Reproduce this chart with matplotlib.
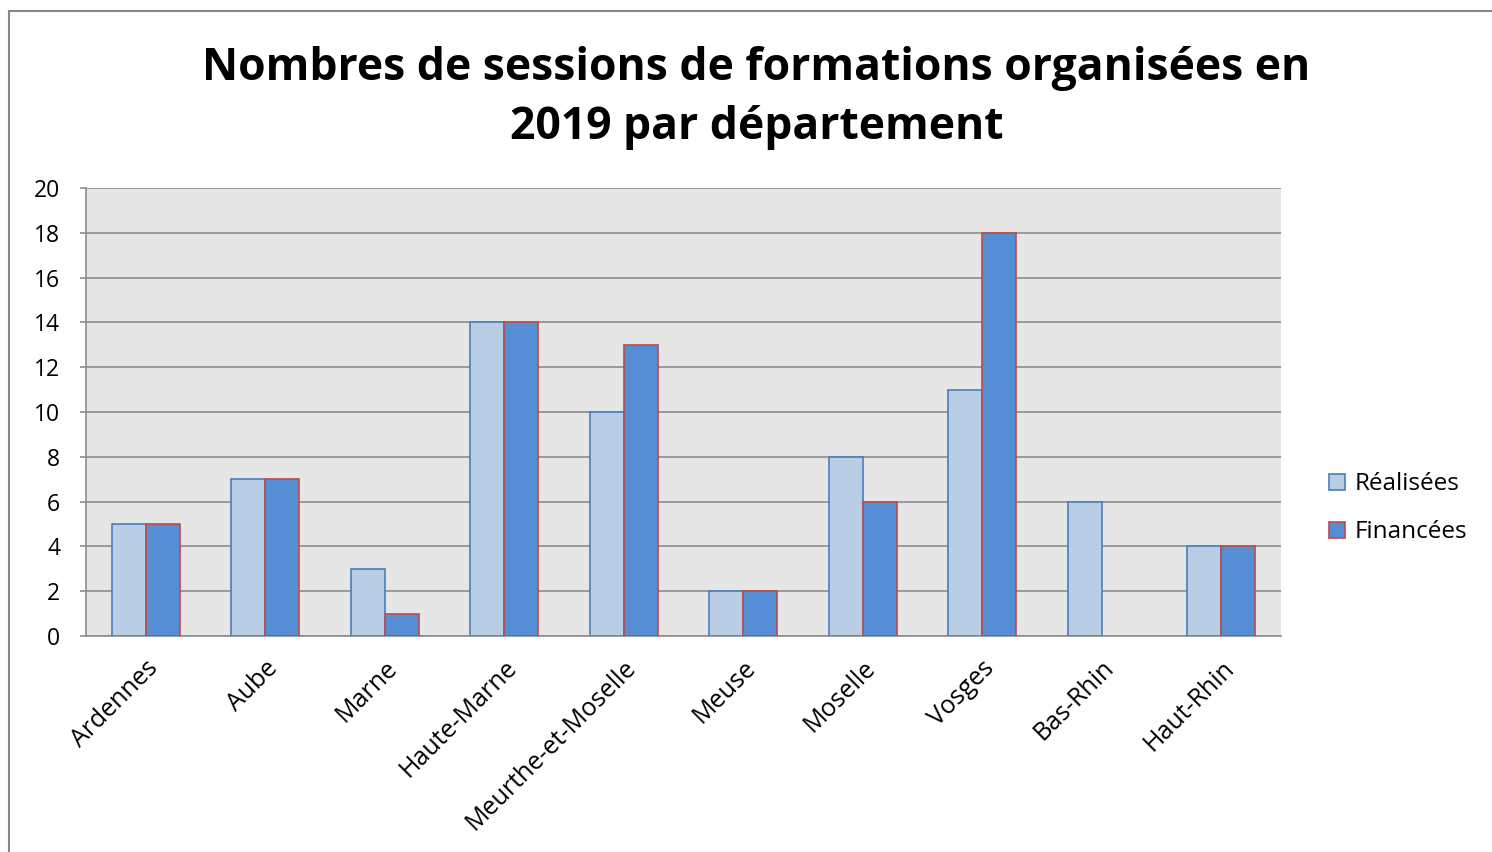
import numpy as np
import matplotlib.pyplot as plt
from matplotlib.patches import Rectangle

departements = ['Ardennes', 'Aube', 'Marne', 'Haute-Marne', 'Meurthe-et-Moselle',
                'Meuse', 'Moselle', 'Vosges', 'Bas-Rhin', 'Haut-Rhin']
realisees = [5, 7, 3, 14, 10, 2, 8, 11, 6, 4]
financees = [5, 7, 1, 14, 13, 2, 6, 18, 0, 4]

plt.rcParams['font.family'] = ['Open Sans', 'DejaVu Sans']

fig = plt.figure(figsize=(14.92, 8.52), dpi=100)
# cadre du graphique (coupe a droite et en bas comme sur la capture)
fig.patches.append(Rectangle((9 / 1492, -0.1), 1.2, (852 - 11) / 852 + 0.1,
                             transform=fig.transFigure, fill=False,
                             edgecolor='#888888', linewidth=1.5))

ax = fig.add_axes([86 / 1492, 1 - 636 / 852, (1281 - 86) / 1492, (636 - 188) / 852])
ax.set_facecolor('#E6E6E6')

x = np.arange(len(departements))
w = 0.285
ax.bar(x - w / 2, realisees, w, color='#B9CDE5', edgecolor='#4A7EBB',
       linewidth=1.2, label='Réalisées', zorder=3)
bars_f = ax.bar(x + w / 2, financees, w, color='#558ED5', edgecolor='#BE4B48',
                linewidth=1.2, label='Financées', zorder=3)
for b, v in zip(bars_f, financees):
    if v == 0:
        b.set_visible(False)

ax.set_xlim(-0.5, len(departements) - 0.5)
ax.set_ylim(0, 20)
ax.set_yticks(range(0, 21, 2))
ax.yaxis.grid(True, color='#8C8C8C', linewidth=1.2, zorder=0)
ax.set_axisbelow(True)
for s in ['top', 'right']:
    ax.spines[s].set_visible(False)
ax.spines['left'].set_color('#8C8C8C')
ax.spines['bottom'].set_color('#8C8C8C')
ax.spines['left'].set_linewidth(1.2)
ax.spines['bottom'].set_linewidth(1.2)
ax.tick_params(axis='y', length=4.5, width=1.2, color='#8C8C8C', labelsize=16.5, pad=14)
ax.tick_params(axis='x', length=0, labelsize=18, pad=14)
ax.set_xticks(x)
ax.set_xticklabels(departements, rotation=45, ha='right', rotation_mode='anchor')

fig.text(0.507, 0.885, 'Nombres de sessions de formations organisées en\n2019 par département',
         ha='center', va='center', fontsize=32, fontweight='bold', linespacing=1.42)

ax.legend(loc='center left', bbox_to_anchor=(1.03, 0.285), frameon=False,
          fontsize=17.5, handlelength=0.65, handleheight=0.65, labelspacing=1.0,
          handletextpad=0.4, borderpad=0)

fig.savefig('out.png', dpi=100)
